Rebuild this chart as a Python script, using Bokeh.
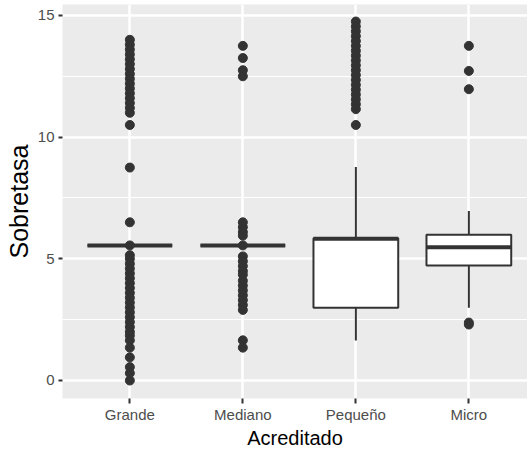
from bokeh.plotting import figure
from bokeh.models import Range1d, FixedTicker, ColumnDataSource
from bokeh.embed import file_html
from bokeh.resources import INLINE

# ---- data ----
categories = ["Grande", "Mediano", "Pequeño", "Micro"]
q1 = [5.55, 5.55, 2.99, 4.73]
median = [5.55, 5.55, 5.82, 5.48]
q3 = [5.55, 5.55, 5.85, 5.99]
whisker_low = [5.55, 5.55, 1.64, 2.99]
whisker_high = [5.55, 5.55, 8.77, 6.96]

outliers_grande = [14.0, 13.8, 13.6, 13.4, 13.2, 13.0, 12.8, 12.6, 12.4, 12.2, 12.0,
                   11.8, 11.6, 11.4, 11.2, 11.0, 10.5, 8.75, 6.5, 5.55,
                   5.15, 5.0, 4.8, 4.6, 4.4, 4.2, 4.0, 3.8, 3.6, 3.4, 3.2, 3.0,
                   2.8, 2.6, 2.4, 2.2, 2.0, 1.85, 1.65, 1.35, 0.95, 0.55, 0.3, 0.0]
outliers_mediano = [13.75, 13.25, 12.75, 12.5, 6.5, 6.3, 6.1, 5.95, 5.55,
                    5.1, 4.9, 4.7, 4.5, 4.35, 4.1, 3.9, 3.7, 3.5, 3.3, 3.1, 2.9,
                    1.65, 1.35]
outliers_pequeno = [14.75, 14.55, 14.35, 14.15, 13.95, 13.75, 13.55, 13.35, 13.15,
                    12.95, 12.75, 12.55, 12.35, 12.15, 11.95, 11.75, 11.55, 11.35,
                    11.15, 10.5]
outliers_micro = [13.75, 12.72, 11.97, 2.38, 2.3]
outliers = [outliers_grande, outliers_mediano, outliers_pequeno, outliers_micro]

y_ticks = [0, 5, 10, 15]
y_minor = [2.5, 7.5, 12.5]
box_width = 0.75

# ---- derived positions ----
xpos = [i + 1 for i in range(len(categories))]
half = box_width / 2
box_src = ColumnDataSource(dict(
    x=xpos, q1=q1, q3=q3, med=median, lo=whisker_low, hi=whisker_high,
    x0=[x - half for x in xpos], x1=[x + half for x in xpos]))
ox, oy = [], []
for x, vals in zip(xpos, outliers):
    ox += [x] * len(vals)
    oy += vals
out_src = ColumnDataSource(dict(x=ox, y=oy))

p = figure(width=527, height=454, output_backend="svg", toolbar_location=None,
           x_range=Range1d(0.404, 4.519), y_range=Range1d(-0.74, 15.45),
           min_border_left=62, min_border_right=0, min_border_top=4,
           min_border_bottom=56)
p.background_fill_color = "#EBEBEB"
p.border_fill_color = "white"
p.outline_line_color = None

# grids
p.xgrid.ticker = FixedTicker(ticks=xpos)
p.xgrid.grid_line_color = "white"
p.xgrid.grid_line_width = 2.5
p.ygrid.ticker = FixedTicker(ticks=y_ticks, minor_ticks=y_minor)
p.ygrid.grid_line_color = "white"
p.ygrid.grid_line_width = 2.5
p.ygrid.minor_grid_line_color = "white"
p.ygrid.minor_grid_line_width = 1.2

# axes
font = "Liberation Sans"
p.xaxis.ticker = FixedTicker(ticks=xpos)
p.xaxis.major_label_overrides = {x: c for x, c in zip(xpos, categories)}
p.yaxis.ticker = FixedTicker(ticks=y_ticks)
for ax in (p.xaxis, p.yaxis):
    ax.axis_line_color = None
    ax.major_tick_in = 0
    ax.major_tick_line_color = "#333333"
    ax.major_tick_line_width = 2
    ax.minor_tick_line_color = None
    ax.major_label_text_font = font
    ax.major_label_text_font_size = "15px"
    ax.major_label_text_color = "#4D4D4D"
    ax.axis_label_text_font = font
    ax.axis_label_text_font_style = "normal"
    ax.axis_label_text_color = "black"
p.xaxis.major_tick_out = 5
p.yaxis.major_tick_out = 4
p.xaxis.major_label_standoff = 2
p.yaxis.major_label_standoff = 4
p.xaxis.axis_label = "Acreditado"
p.xaxis.axis_label_text_font_size = "20px"
p.xaxis.axis_label_standoff = 1
p.yaxis.axis_label = "Sobretasa"
p.yaxis.axis_label_text_font_size = "25px"
p.yaxis.axis_label_standoff = 2

# boxplot marks
p.scatter("x", "y", source=out_src, size=9, color="#333333")
p.segment("x", "q3", "x", "hi", source=box_src, line_color="#333333", line_width=2)
p.segment("x", "q1", "x", "lo", source=box_src, line_color="#333333", line_width=2)
p.vbar(x="x", top="q3", bottom="q1", width=box_width, source=box_src,
       fill_color="white", line_color="#333333", line_width=2)
p.segment("x0", "med", "x1", "med", source=box_src, line_color="#333333", line_width=4)

open("out.html", "w").write(file_html(p, INLINE))
